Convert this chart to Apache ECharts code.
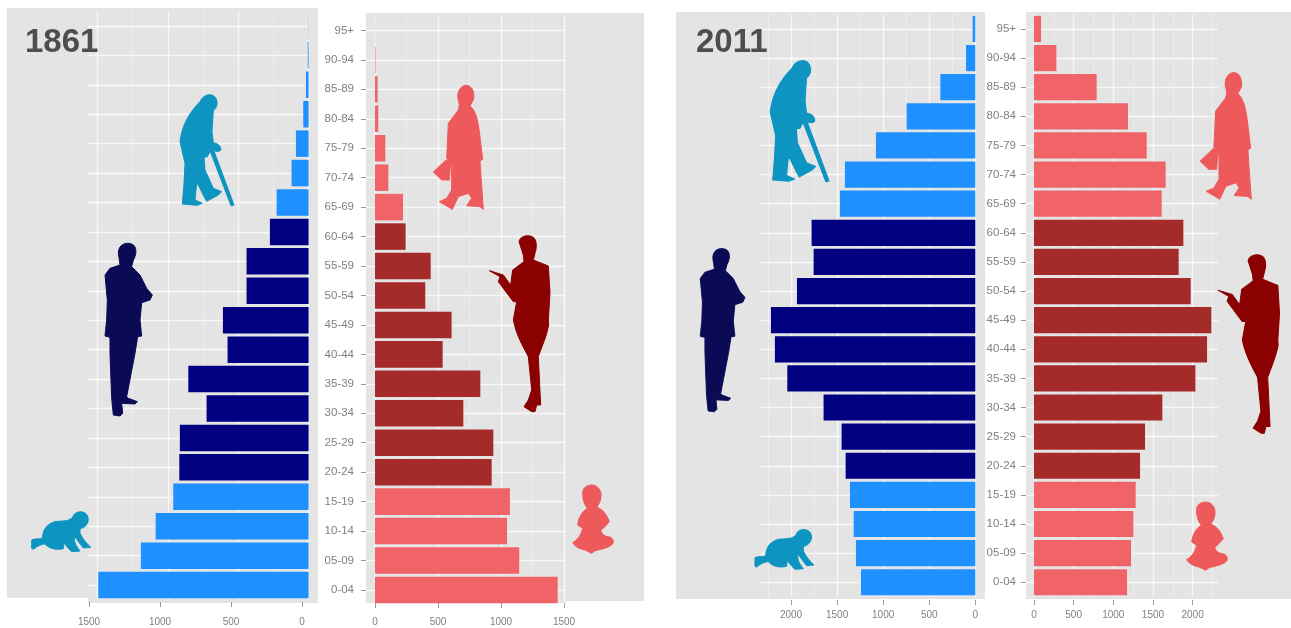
<!DOCTYPE html>
<html>
<head>
<meta charset="utf-8">
<script src="https://cdn.jsdelivr.net/npm/echarts@6/dist/echarts.min.js"></script>
<style>
html,body{margin:0;padding:0;background:#fff;overflow:hidden}
#chart{width:1291px;height:628px;filter:blur(0.75px)}
</style>
</head>
<body>
<div id="chart"></div>
<script>
// ---------- data (thousands of people), youngest group first ----------
var ages = ['0-04','05-09','10-14','15-19','20-24','25-29','30-34','35-39','40-44','45-49',
            '50-54','55-59','60-64','65-69','70-74','75-79','80-84','85-89','90-94','95+'];
var male1861   = [1495,1192,1087,962,919,915,725,855,576,609,441,441,275,227,121,90,38,19,6,2];
var female1861 = [1450,1145,1048,1071,926,939,701,836,537,608,399,442,243,222,106,82,26,21,4,1];
var male2011   = [1243,1297,1322,1362,1409,1453,1649,2043,2178,2221,1938,1757,1779,1471,1417,1080,746,380,101,29];
var female2011 = [1173,1223,1253,1282,1337,1400,1618,2035,2182,2236,1976,1824,1883,1610,1660,1421,1185,790,282,88];
var yearTitles = ['1861','2011'];

// ---------- colours ----------
var C = {
  panel:'#E4E4E4', major:'#F8F8F8', minor:'#EDEDED', text:'#808080', tick:'#999999', title:'#4E4E4E',
  maleKid:'#1E90FF', maleAdult:'#000080', femaleKid:'#F06468', femaleAdult:'#A52A2A',
  sTeal:'#0E94C1', sNavy:'#0B0B55', sSalmon:'#EE5A5C', sRed:'#8B0000'
};
function isWorkingAge(i){ return i >= 4 && i <= 12; }

// ---------- panel layout (pixels) ----------
var panels = [
  {values:male1861,   kid:C.maleKid,   adult:C.maleAdult,   inverse:true,
   frame:[88,308.6],  barLeft:88, barRight:308.6, xMax:1568,
   top:11.2, h:588.6, tick:[89,302,602], tickMax:1500, margin:15, ylabels:false},
  {values:female1861, kid:C.femaleKid, adult:C.femaleAdult, inverse:false,
   frame:[366,566],   barLeft:375, barRight:566, xMax:1516,
   top:15.7, h:589, tick:[375,564,603], tickMax:1500, margin:14, ylabels:true, yMargin:12},
  {values:male2011,   kid:C.maleKid,   adult:C.maleAdult,   inverse:true,
   frame:[761,975.3], barLeft:761, barRight:975.3, xMax:2329,
   top:14.4, h:582.4, tick:[791,975.3,600], tickMax:2000, margin:10, ylabels:false},
  {values:female2011, kid:C.femaleKid, adult:C.femaleAdult, inverse:false,
   frame:[1026,1218], barLeft:1034, barRight:1218, xMax:2320,
   top:14.4, h:582.4, tick:[1034,1192.6,600], tickMax:2000, margin:10, ylabels:true, yMargin:10}
];

var grid=[], xAxis=[], yAxis=[], series=[];
var FONT='"Liberation Sans", Arial, sans-serif';
panels.forEach(function(p){
  // frame grid: age axis and horizontal grid lines
  var g0=grid.length;
  grid.push({left:p.frame[0], width:p.frame[1]-p.frame[0], top:p.top, height:p.h});
  xAxis.push({gridIndex:g0, type:'value', show:false, min:0, max:1});
  yAxis.push({gridIndex:g0, type:'category', data:ages,
    axisLine:{show:false},
    axisTick:{show:p.ylabels, length:5, alignWithLabel:true, lineStyle:{color:C.tick}},
    axisLabel:{show:p.ylabels, margin:p.yMargin, color:C.text, fontSize:11.5, fontFamily:FONT, interval:0},
    splitLine:{show:true, alignWithLabel:true, interval:0, lineStyle:{color:C.major, width:1.4}}
  });
  // bar grid: value scale, vertical grid lines, the bars
  var g1=grid.length;
  grid.push({left:p.barLeft, width:p.barRight-p.barLeft, top:p.top, height:p.h});
  xAxis.push({gridIndex:g1, type:'value', min:0, max:p.xMax, interval:500, inverse:p.inverse,
    axisLine:{show:false}, axisTick:{show:false}, axisLabel:{show:false},
    splitLine:{show:true, showMaxLine:false, lineStyle:{color:C.major, width:1.4}},
    minorTick:{show:false, splitNumber:2},
    minorSplitLine:{show:true, lineStyle:{color:C.minor, width:1}}
  });
  yAxis.push({gridIndex:g1, type:'category', data:ages, show:false});
  series.push({type:'bar', xAxisIndex:g1, yAxisIndex:g1, data:p.values, barWidth:'90%',
    silent:true, z:3,
    itemStyle:{color:function(v){ return isWorkingAge(v.dataIndex)?p.adult:p.kid; }}
  });
  // tick grid: the printed value axis
  var g2=grid.length;
  grid.push({left:p.tick[0], width:p.tick[1]-p.tick[0], top:p.tick[2]-10, height:10});
  xAxis.push({gridIndex:g2, type:'value', min:0, max:p.tickMax, interval:500, inverse:p.inverse,
    axisLine:{show:false},
    axisTick:{show:true, length:5, lineStyle:{color:C.tick}},
    axisLabel:{show:true, margin:p.margin, color:C.text, fontSize:10, fontFamily:FONT,
      showMinLabel:true, showMaxLabel:true, formatter:function(v){ return String(v); }},
    splitLine:{show:false}
  });
  yAxis.push({gridIndex:g2, type:'value', show:false, min:0, max:1});
});

// ---------- silhouettes (decoration, in a local outline space) ----------
var OLD_MAN='M600 305C608 285 635 275 648 295C655 310 650 325 640 332L636 395L640 428C650 430 662 435 663 448C660 458 645 455 636 448L628 458L622 470L612 472L615 510L640 565L665 575L655 585L620 604L612 590L595 555L590 550L585 600L607 610L590 616L547 612L552 550L555 490L540 425C545 385 560 345 600 305ZM630 452L640 448L702 615L693 617Z';
var OLD_WOMAN='M413 290C413 265 430 255 440 256C458 258 465 280 460 300L450 318C465 330 472 350 478 395L488 478L480 483L483 530L490 628L480 620L440 617L455 595L445 580L415 590L397 628L358 605L380 595L395 570L395 500L393 490L380 475L385 370L415 330L418 315ZM340 516L378 480L392 487L388 540L365 540Z';
var MAN='M355 760C355 735 375 725 395 732C412 738 410 765 400 780L395 800L420 825L440 865L457 885L450 900L425 908L420 960L425 1008L413 1010L405 1060L380 1190L385 1195L412 1205L405 1212L365 1210L368 1240L360 1248L340 1245L335 1195L330 1060L330 1012L315 1008L320 960L322 900L315 825L330 805L360 795L358 780Z';
var WOMAN='M597 725C600 708 625 702 640 712C652 722 650 745 645 760L640 780L685 798L690 880L685 960L686 975C680 1010 665 1040 655 1070L660 1175L662 1215L650 1215L645 1235L635 1235L612 1220L625 1200L635 1170L625 1070C610 1040 590 1010 580 960L590 905L580 905L535 845L540 830L508 812L550 825L572 855L578 810L612 785L610 765Z';
var CRAWL='M218 592C222 572 258 568 264 592C268 612 252 625 240 626L240 640C250 660 262 672 272 682L250 684C240 672 232 660 225 650C222 660 222 670 240 693L215 695C205 685 198 678 192 668L190 686C170 690 150 688 135 672C125 672 112 678 100 688L95 685L95 660C105 655 118 658 127 655C128 630 140 612 165 605C185 602 205 606 218 592Z';
var SIT='M548 522C546 503 562 495 575 495C592 495 605 510 603 530C602 545 595 555 590 562C605 566 618 578 628 605L610 625L602 630C605 640 610 648 625 650C640 652 642 665 638 672C625 685 600 688 585 692L575 700L555 690C540 688 525 680 518 668C530 660 542 650 548 625L533 615C535 595 545 575 562 565C552 552 548 540 548 522Z';

function sil(d,color,tx,ty,s){
  return {type:'path', x:tx, y:ty, scaleX:s, scaleY:s, shape:{pathData:d},
    style:{fill:color, stroke:color, lineWidth:3, lineJoin:'round'}};
}
var silhouettes=[
  sil(OLD_MAN,C.sTeal,0,0,1/3),
  sil(MAN,C.sNavy,0,0,1/3),
  sil(CRAWL,C.sTeal,0,320,1/3),
  sil(OLD_WOMAN,C.sSalmon,320,0,1/3),
  sil(WOMAN,C.sRed,320,0,1/3),
  sil(SIT,C.sSalmon,400,320,1/3),
  sil(OLD_MAN,C.sTeal,574,-42.5,0.3633),
  sil(MAN,C.sNavy,601,18.7,0.315),
  sil(CRAWL,C.sTeal,723.3,337.7,1/3),
  sil(OLD_WOMAN,C.sSalmon,1084.7,-14.4,0.34),
  sil(WOMAN,C.sRed,1046.3,15.7,0.338),
  sil(SIT,C.sSalmon,1014,337,1/3)
];
series.push({type:'custom', coordinateSystem:'none', silent:true, z:5, data:[0],
  renderItem:function(){ return {type:'group', children:silhouettes}; }
});

function rect(x0,y0,x1,y1){
  return {type:'rect', z:-10, silent:true, shape:{x:x0,y:y0,width:x1-x0,height:y1-y0}, style:{fill:C.panel}};
}
var graphic=[
  rect(7,8,88,598), rect(88,8,318,603),
  rect(366,13,566,603), rect(566,13,644,601),
  rect(676,12,985,599),
  rect(1026,12,1291,599)
];

var chart=echarts.init(document.getElementById('chart'),null,{width:1291,height:628});
chart.setOption({
  animation:false,
  backgroundColor:'#ffffff',
  title:[
    {text:yearTitles[0], left:25, top:26, textStyle:{fontFamily:FONT, fontWeight:'bold', fontSize:33, color:C.title}, padding:0},
    {text:yearTitles[1], left:696, top:26, textStyle:{fontFamily:FONT, fontWeight:'bold', fontSize:33, color:C.title}, padding:0}
  ],
  graphic:graphic,
  grid:grid, xAxis:xAxis, yAxis:yAxis, series:series
});
</script>
</body>
</html>
